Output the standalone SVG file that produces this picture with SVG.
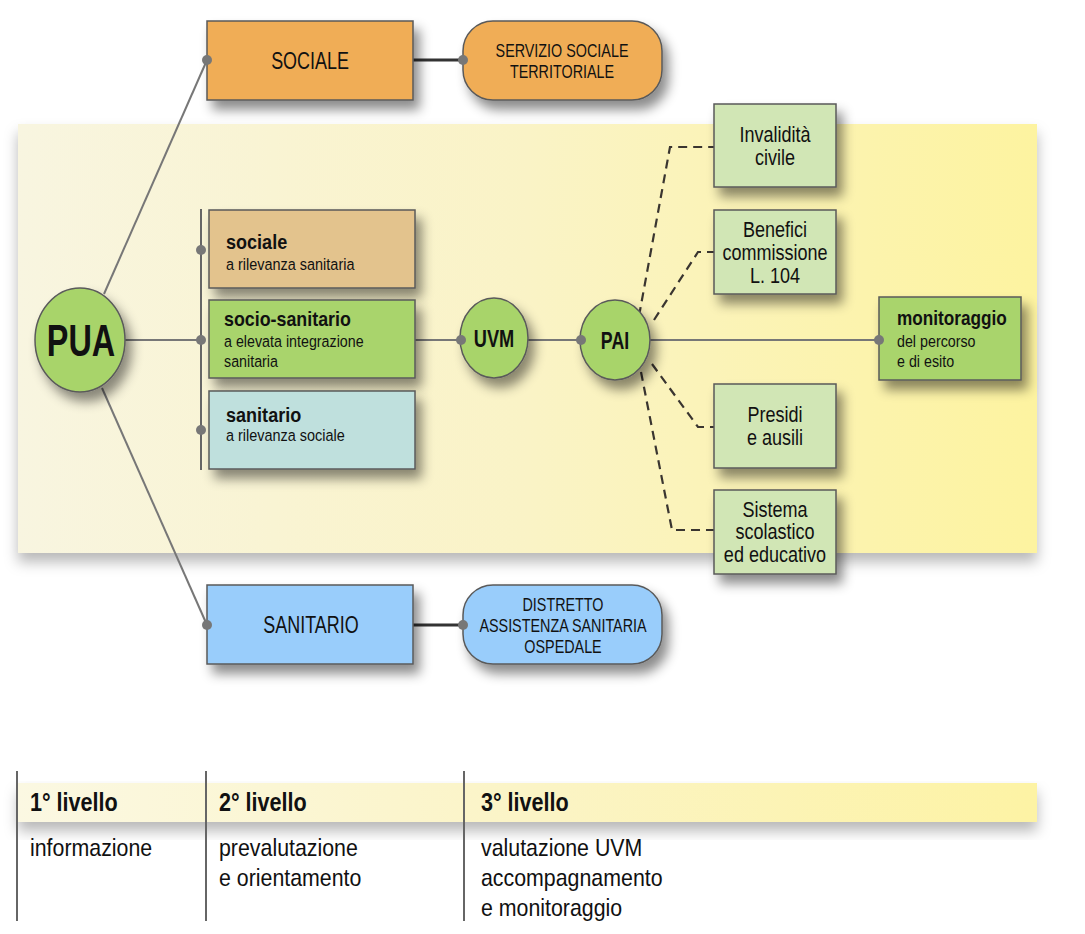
<svg xmlns="http://www.w3.org/2000/svg" width="1085" height="934" viewBox="0 0 1085 934">
<defs>
<linearGradient id="panelGrad" x1="0" y1="0" x2="1" y2="0">
<stop offset="0" stop-color="#f8f5e0"/>
<stop offset="0.5" stop-color="#faf3c6"/>
<stop offset="1" stop-color="#fdf3a0"/>
</linearGradient>
<linearGradient id="bandGrad" x1="0" y1="0" x2="1" y2="0">
<stop offset="0" stop-color="#fbf8e2"/>
<stop offset="0.5" stop-color="#fbf4c6"/>
<stop offset="1" stop-color="#fdf3a4"/>
</linearGradient>
<filter id="sh" x="-20%" y="-20%" width="150%" height="160%">
<feDropShadow dx="6" dy="9" stdDeviation="6" flood-color="#000" flood-opacity="0.45"/>
</filter>
<filter id="shp" x="-5%" y="-5%" width="110%" height="150%">
<feDropShadow dx="0" dy="9" stdDeviation="7" flood-color="#000" flood-opacity="0.28"/>
</filter>
<style>
.t{font-family:"Liberation Sans",Arial,sans-serif;fill:#111}
.b{font-weight:bold}
.m{text-anchor:middle}
.box{stroke:#5a5a5a;stroke-width:1.5}
.ln{stroke:#777;stroke-width:2;fill:none}
.dk{stroke:#333;stroke-width:3;fill:none}
.ds{stroke:#3a3530;stroke-width:2.2;stroke-dasharray:9 6;fill:none}
.dot{fill:#777}
.vl{stroke:#666;stroke-width:2}
</style>
</defs>
<rect width="1085" height="934" fill="#ffffff"/>
<rect id="panel" x="18" y="124" width="1019" height="429" fill="url(#panelGrad)" filter="url(#shp)"/>
<rect id="band" x="18" y="783" width="1019" height="39" fill="url(#bandGrad)" filter="url(#shp)"/>

<g id="connectors">
<line class="ln" x1="104" y1="294" x2="207" y2="60"/>
<line class="ln" x1="102" y1="388" x2="207" y2="625"/>
<line class="ln" x1="125" y1="340" x2="201" y2="340"/>
<line class="vl" x1="201" y1="209" x2="201" y2="470"/>
<line class="ln" x1="415" y1="340" x2="461" y2="340"/>
<line class="ln" x1="528" y1="340" x2="581" y2="340"/>
<line class="ln" x1="650" y1="340" x2="879" y2="340"/>
<line class="dk" x1="413" y1="60" x2="463" y2="60"/>
<line class="dk" x1="413" y1="625" x2="463" y2="625"/>
<polyline class="ds" points="639,316 670,147 714,147"/>
<polyline class="ds" points="654,320 698,252 714,252"/>
<polyline class="ds" points="652,364 698,427 714,427"/>
<polyline class="ds" points="641,372 672,530 714,530"/>
</g>

<g id="sociale-top">
<rect class="box" x="207" y="21" width="206" height="79" fill="#f0ad56" filter="url(#sh)"/>
<text class="t m" transform="translate(310 69) scale(0.78 1)" font-size="23">SOCIALE</text>
</g>
<g id="servizio">
<rect class="box" x="463" y="21" width="199" height="79" rx="30" fill="#f0ad56" filter="url(#sh)"/>
<text class="t m" transform="translate(562 57) scale(0.82 1)" font-size="17.5">SERVIZIO SOCIALE</text>
<text class="t m" transform="translate(562 78) scale(0.82 1)" font-size="17.5">TERRITORIALE</text>
</g>
<g id="sanitario-bottom">
<rect class="box" x="207" y="585" width="206" height="79" fill="#99cdfb" filter="url(#sh)"/>
<text class="t m" transform="translate(311 633) scale(0.78 1)" font-size="23">SANITARIO</text>
</g>
<g id="distretto">
<rect class="box" x="463" y="585" width="199" height="79" rx="30" fill="#99cdfb" filter="url(#sh)"/>
<text class="t m" transform="translate(563 611) scale(0.82 1)" font-size="17.5">DISTRETTO</text>
<text class="t m" transform="translate(563 632) scale(0.82 1)" font-size="17.5">ASSISTENZA SANITARIA</text>
<text class="t m" transform="translate(563 653) scale(0.82 1)" font-size="17.5">OSPEDALE</text>
</g>

<g id="pua">
<ellipse class="box" cx="80" cy="340" rx="45" ry="52" fill="#a8d46b" filter="url(#sh)"/>
<text class="t b m" transform="translate(81 356) scale(0.72 1)" font-size="45">PUA</text>
</g>

<g id="sociale">
<rect class="box" x="209" y="210" width="206" height="78" fill="#e3c38d" filter="url(#sh)"/>
<text class="t b" transform="translate(226 249) scale(0.86 1)" font-size="21">sociale</text>
<text class="t" transform="translate(226 270) scale(0.85 1)" font-size="17">a rilevanza sanitaria</text>
</g>
<g id="socio-sanitario">
<rect class="box" x="209" y="300" width="206" height="78" fill="#a9d46c" filter="url(#sh)"/>
<text class="t b" transform="translate(224 326) scale(0.85 1)" font-size="21">socio-sanitario</text>
<text class="t" transform="translate(224 347) scale(0.84 1)" font-size="17">a elevata integrazione</text>
<text class="t" transform="translate(224 367) scale(0.84 1)" font-size="17">sanitaria</text>
</g>
<g id="sanitario">
<rect class="box" x="209" y="391" width="206" height="78" fill="#bfe0dd" filter="url(#sh)"/>
<text class="t b" transform="translate(226 422) scale(0.86 1)" font-size="21">sanitario</text>
<text class="t" transform="translate(226 441) scale(0.85 1)" font-size="17">a rilevanza sociale</text>
</g>

<g id="uvm">
<ellipse class="box" cx="494" cy="338" rx="34" ry="40" fill="#a8d46b" filter="url(#sh)"/>
<text class="t b m" transform="translate(494 347) scale(0.76 1)" font-size="24">UVM</text>
</g>
<g id="pai">
<ellipse class="box" cx="615" cy="340" rx="35" ry="40" fill="#a8d46b" filter="url(#sh)"/>
<text class="t b m" transform="translate(615 349) scale(0.74 1)" font-size="24">PAI</text>
</g>

<g id="invalidita">
<rect class="box" x="714" y="104" width="122" height="83" fill="#d1e6b5" filter="url(#sh)"/>
<text class="t m" transform="translate(775 142) scale(0.82 1)" font-size="22">Invalidità</text>
<text class="t m" transform="translate(775 165) scale(0.82 1)" font-size="22">civile</text>
</g>
<g id="benefici">
<rect class="box" x="714" y="210" width="122" height="84" fill="#d1e6b5" filter="url(#sh)"/>
<text class="t m" transform="translate(775 237) scale(0.82 1)" font-size="22">Benefici</text>
<text class="t m" transform="translate(775 260) scale(0.82 1)" font-size="22">commissione</text>
<text class="t m" transform="translate(775 283) scale(0.82 1)" font-size="22">L. 104</text>
</g>
<g id="presidi">
<rect class="box" x="714" y="384" width="122" height="84" fill="#d1e6b5" filter="url(#sh)"/>
<text class="t m" transform="translate(775 422) scale(0.82 1)" font-size="22">Presidi</text>
<text class="t m" transform="translate(775 445) scale(0.82 1)" font-size="22">e ausili</text>
</g>
<g id="sistema">
<rect class="box" x="714" y="490" width="122" height="84" fill="#d1e6b5" filter="url(#sh)"/>
<text class="t m" transform="translate(775 517) scale(0.82 1)" font-size="22">Sistema</text>
<text class="t m" transform="translate(775 539) scale(0.82 1)" font-size="22">scolastico</text>
<text class="t m" transform="translate(775 562) scale(0.82 1)" font-size="22">ed educativo</text>
</g>
<g id="monitoraggio">
<rect class="box" x="879" y="297" width="142" height="83" fill="#a9d46c" filter="url(#sh)"/>
<text class="t b" transform="translate(897 325) scale(0.86 1)" font-size="20">monitoraggio</text>
<text class="t" transform="translate(897 347) scale(0.84 1)" font-size="17">del percorso</text>
<text class="t" transform="translate(897 367) scale(0.84 1)" font-size="17">e di esito</text>
</g>

<g id="dots">
<circle class="dot" cx="207" cy="60" r="5"/>
<circle class="dot" cx="463" cy="60" r="5"/>
<circle class="dot" cx="207" cy="625" r="5"/>
<circle class="dot" cx="463" cy="625" r="5"/>
<circle class="dot" cx="201" cy="250" r="5"/>
<circle class="dot" cx="201" cy="340" r="5"/>
<circle class="dot" cx="201" cy="430" r="5"/>
<circle class="dot" cx="461" cy="340" r="5"/>
<circle class="dot" cx="581" cy="340" r="5"/>
<circle class="dot" cx="879" cy="340" r="5"/>
</g>

<g id="levels">
<line class="vl" x1="17" y1="771" x2="17" y2="921"/>
<line class="vl" x1="206" y1="771" x2="206" y2="921"/>
<line class="vl" x1="464" y1="771" x2="464" y2="921"/>
<text class="t b" transform="translate(30 811) scale(0.83 1)" font-size="26">1° livello</text>
<text class="t b" transform="translate(219 811) scale(0.83 1)" font-size="26">2° livello</text>
<text class="t b" transform="translate(481 811) scale(0.83 1)" font-size="26">3° livello</text>
<text class="t" transform="translate(30 856) scale(0.89 1)" font-size="24">informazione</text>
<text class="t" transform="translate(219 856) scale(0.89 1)" font-size="24">prevalutazione</text>
<text class="t" transform="translate(219 886) scale(0.89 1)" font-size="24">e orientamento</text>
<text class="t" transform="translate(481 856) scale(0.89 1)" font-size="24">valutazione UVM</text>
<text class="t" transform="translate(481 886) scale(0.89 1)" font-size="24">accompagnamento</text>
<text class="t" transform="translate(481 916) scale(0.89 1)" font-size="24">e monitoraggio</text>
</g>
</svg>
